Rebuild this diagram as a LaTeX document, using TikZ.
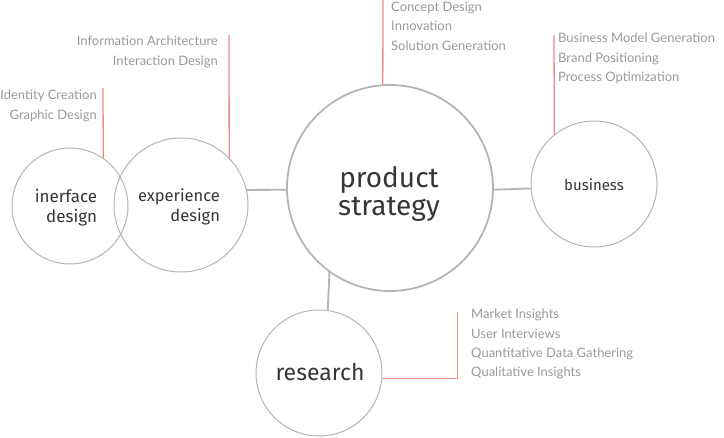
\documentclass[tikz,border=0pt]{standalone}
\usepackage{fontspec}
\setmainfont{Lato}
\newfontfamily\handfont{Fira Sans}
\definecolor{bubblegray}{HTML}{B4B4B4}
\definecolor{notegray}{HTML}{999999}
\definecolor{handgray}{HTML}{363636}
\definecolor{leadred}{HTML}{F28A8A}
\begin{document}
\begin{tikzpicture}[x=1pt,y=-1pt,
	bubble/.style={circle,draw=bubblegray,line width=1pt,inner sep=0pt,outer sep=0pt},
	hand/.style={text=handgray,align=right,inner sep=0pt},
	note/.style={text=notegray,font=\fontsize{13}{19.3}\selectfont,inner sep=0pt},
	lead/.style={draw=leadred,line width=1.3pt},
	link/.style={draw=bubblegray,line width=1.8pt}]
	\useasboundingbox (0,0) rectangle (724,438);

	% bubbles
	\node (interface) [bubble,minimum size=116pt] at (70,206) {};
	\node (experience) [bubble,minimum size=134pt] at (181,205) {};
	\node (product) [bubble,line width=1.8pt,minimum size=206pt] at (390,188) {};
	\node (business) [bubble,minimum size=126pt] at (594,184) {};
	\node (research) [bubble,minimum size=126pt] at (319,373) {};

	% handwritten labels
	\node (interfacetext) [hand,font=\handfont\fontsize{17}{20}\selectfont] at (66,208) {inerface\\design};
	\node (experiencetext) [hand,font=\handfont\fontsize{16.5}{20}\selectfont] at (179,207) {experience\\design};
	\node (producttext) [hand,align=center,font=\handfont\fontsize{28}{28}\selectfont] at (389,194) {product\\strategy};
	\node (businesstext) [hand,font=\handfont\fontsize{15}{18}\selectfont] at (594,185) {business};
	\node (researchtext) [hand,font=\handfont\fontsize{23}{24}\selectfont] at (320,372) {research};

	% links between bubbles
	\draw[link] (experience.13) -- (product.181);
	\draw[link] (product.-1) -- (business.184);
	\draw[link] (product.234) -- (research.82);

	% notes
	\node (identitynote) [note,align=right,anchor=north east] at (97,90) {Identity Creation\\Graphic Design};
	\node (infonote) [note,align=right,anchor=north east] at (218,36) {Information Architecture\\Interaction Design};
	\node (conceptnote) [note,align=left,anchor=north west] at (391,2) {Concept Design\\Innovation\\Solution Generation};
	\node (businessnote) [note,align=left,anchor=north west] at (558,33) {Business Model Generation\\Brand Positioning\\Process Optimization};
	\node (researchnote) [note,align=left,anchor=north west] at (471,309) {Market Insights\\User Interviews\\Quantitative Data Gathering\\Qualitative Insights};

	% red leaders
	\coordinate (identitytop) at (103,88);
	\coordinate (infotop) at (229,35);
	\coordinate (concepttop) at (383,0);
	\coordinate (businesstop) at (554,35);
	\coordinate (researchtop) at (457.5,312);
	\draw[lead] (identitytop) -- (interface.55);
	\draw[lead] (infotop) -- (experience.44);
	\draw[lead] (concepttop) -- (product.94);
	\draw[lead] (businesstop) -- (business.129);
	\draw[lead] (researchtop) |- (research.-5);
\end{tikzpicture}
\end{document}
